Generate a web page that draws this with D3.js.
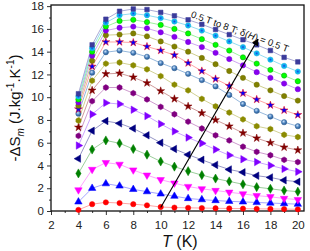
<!DOCTYPE html>
<html>
<head>
<meta charset="utf-8">
<script src="https://cdn.jsdelivr.net/npm/d3@7"></script>
<style>
body { margin: 0; background: #fff; }
text { font-family: "Liberation Sans", Arial, sans-serif; }
</style>
</head>
<body>
<div id="chart"></div>
<script>
// Temperature (K)
var temps = [4, 5, 6, 7, 8, 9, 10, 11, 12, 13, 14, 15, 16, 17, 18, 19, 20];

// -dSm values for each field, 0.5 T to 8 T
var s05 = [0.1, 0.6, 0.76, 0.7, 0.6, 0.5, 0.35, 0.3, 0.28, 0.26, 0.24, 0.22, 0.21, 0.19, 0.18, 0.17, 0.15];
var s10 = [0.8, 2.0, 2.4, 2.2, 1.9, 1.7, 1.5, 1.3, 1.1, 1.0, 0.92, 0.85, 0.8, 0.75, 0.7, 0.65, 0.6];
var s15 = [1.85, 3.65, 4.25, 4.1, 3.6, 3.15, 2.75, 2.45, 2.15, 1.95, 1.8, 1.65, 1.5, 1.35, 1.25, 1.1, 1.0];
var s20 = [3.3, 5.4, 6.2, 5.95, 5.45, 4.95, 4.35, 3.9, 3.5, 3.15, 2.85, 2.6, 2.35, 2.1, 1.95, 1.8, 1.7];
var s25 = [4.6, 7.05, 7.9, 7.7, 7.25, 6.65, 6.0, 5.45, 4.95, 4.5, 4.05, 3.65, 3.4, 3.1, 2.95, 2.7, 2.57];
var s30 = [5.75, 8.5, 9.5, 9.4, 8.9, 8.35, 7.65, 7.0, 6.45, 5.95, 5.4, 4.9, 4.55, 4.3, 4.0, 3.7, 3.45];
var s35 = [6.6, 9.65, 10.85, 10.85, 10.35, 9.8, 9.15, 8.5, 7.85, 7.25, 6.65, 6.2, 5.65, 5.2, 4.9, 4.5, 4.3];
var s40 = [7.35, 10.6, 12.05, 12.1, 11.75, 11.25, 10.55, 9.85, 9.2, 8.6, 8.0, 7.45, 6.85, 6.4, 6.0, 5.6, 5.35];
var s45 = [7.95, 11.45, 12.95, 13.05, 12.8, 12.45, 11.85, 11.1, 10.6, 9.85, 9.2, 8.65, 8.05, 7.45, 7.2, 6.7, 6.5];
var s50 = [8.55, 12.15, 13.95, 14.1, 13.9, 13.55, 13.0, 12.55, 12.05, 11.5, 10.95, 10.2, 9.4, 8.8, 8.3, 7.8, 7.45];
var s55 = [8.95, 12.7, 14.85, 14.85, 14.8, 14.45, 14.1, 13.7, 13.0, 12.3, 11.6, 11.0, 10.35, 9.8, 9.3, 8.85, 8.45];
var s60 = [9.25, 13.2, 15.45, 15.5, 15.6, 15.35, 14.9, 14.45, 14.0, 13.45, 12.9, 12.3, 11.7, 11.1, 10.6, 10.1, 9.7];
var s65 = [9.55, 13.65, 15.85, 16.1, 16.2, 16.05, 15.7, 15.3, 14.85, 14.4, 13.9, 13.35, 12.8, 12.2, 11.7, 11.2, 10.7];
var s70 = [9.8, 14.0, 16.2, 16.7, 16.8, 16.6, 16.35, 16.0, 15.6, 15.1, 14.6, 14.1, 13.5, 12.95, 12.4, 11.9, 11.4];
var s75 = [10.05, 14.3, 16.55, 17.2, 17.35, 17.2, 16.95, 16.65, 16.3, 15.85, 15.4, 14.9, 14.4, 13.85, 13.3, 12.75, 12.25];
var s80 = [10.3, 14.6, 16.85, 17.55, 17.75, 17.7, 17.45, 17.15, 16.8, 16.4, 15.95, 15.5, 15.05, 14.6, 14.1, 13.5, 13.1];

var xTicks = [2, 4, 6, 8, 10, 12, 14, 16, 18, 20];
var yTicks = [0, 2, 4, 6, 8, 10, 12, 14, 16, 18];

var svgWidth = 310, svgHeight = 251;
var margin = {top: 5, right: 6, bottom: 40, left: 51};
var plotWidth = svgWidth - margin.left - margin.right;
var plotHeight = svgHeight - margin.top - margin.bottom;

// style of every curve: symbol, fill, stroke, line colour
var series = [
  {v: s05, sym: "circle", fill: "#ff0000", stroke: "#ff0000", line: "#ff9a9a"},
  {v: s10, sym: "up", fill: "#0000ff", stroke: "#0000ff", line: "#9a9aff"},
  {v: s15, sym: "down", fill: "#ff00ff", stroke: "#ff00ff", line: "#ff9aff"},
  {v: s20, sym: "diamond", fill: "#008000", stroke: "#008000", line: "#90c890"},
  {v: s25, sym: "left", fill: "#000080", stroke: "#000080", line: "#8a8ac0"},
  {v: s30, sym: "right", fill: "#8000ff", stroke: "#8000ff", line: "#c49aff"},
  {v: s35, sym: "hex", fill: "#800080", stroke: "#800080", line: "#c890c8"},
  {v: s40, sym: "star", fill: "#800000", stroke: "#800000", line: "#c89090"},
  {v: s45, sym: "hex", fill: "#8b8b00", stroke: "#8b8b00", line: "#cccc88"},
  {v: s50, sym: "sphere", fill: "url(#gSteel)", stroke: "#2f5f95", line: "#8ab0d8"},
  {v: s55, sym: "star", fill: "#0000ff", stroke: "#ff0000", line: "#ff9a9a"},
  {v: s60, sym: "circle", fill: "#808000", stroke: "#707000", line: "#c8c880"},
  {v: s65, sym: "circle", fill: "#8800ee", stroke: "#7700dd", line: "#c89aee"},
  {v: s70, sym: "circle", fill: "#00ff00", stroke: "#00a000", line: "#90f090"},
  {v: s75, sym: "sphere", fill: "url(#gCyan)", stroke: "#00a0d0", line: "#88d8ee"},
  {v: s80, sym: "square", fill: "#3b3b9b", stroke: "#3b3b9b", line: "#a0a0d0"}
];

var svg = d3.select("#chart")
  .append("svg")
  .attr("width", svgWidth)
  .attr("height", svgHeight);

var defs = svg.append("defs");
var g1 = defs.append("radialGradient").attr("id", "gSteel").attr("cx", "40%").attr("cy", "35%").attr("r", "65%");
g1.append("stop").attr("offset", "0%").attr("stop-color", "#cfe4fa");
g1.append("stop").attr("offset", "55%").attr("stop-color", "#4a82bf");
g1.append("stop").attr("offset", "100%").attr("stop-color", "#2a5a90");
var g2 = defs.append("radialGradient").attr("id", "gCyan").attr("cx", "50%").attr("cy", "50%").attr("r", "55%");
g2.append("stop").attr("offset", "0%").attr("stop-color", "#1040e0");
g2.append("stop").attr("offset", "45%").attr("stop-color", "#10a0f0");
g2.append("stop").attr("offset", "100%").attr("stop-color", "#20e0ff");
defs.append("marker")
  .attr("id", "arrow")
  .attr("viewBox", "0 0 10 10")
  .attr("refX", 9).attr("refY", 5)
  .attr("markerWidth", 7).attr("markerHeight", 7)
  .attr("markerUnits", "userSpaceOnUse")
  .attr("orient", "auto")
  .append("path")
  .attr("d", "M0,0 L10,5 L0,10 z")
  .attr("fill", "#000");

var chartGroup = svg.append("g")
  .attr("transform", `translate(${margin.left}, ${margin.top})`);

var xScale = d3.scaleLinear().domain([2, 20.45]).range([0, plotWidth]);
var yScale = d3.scaleLinear().domain([0, 18.1]).range([plotHeight, 0]);

// minor ticks
chartGroup.append("g")
  .attr("transform", `translate(0, ${plotHeight})`)
  .call(d3.axisBottom(xScale).tickValues(d3.range(3, 21, 2)).tickSize(2).tickFormat(""))
  .call(g => g.select(".domain").remove());
chartGroup.append("g")
  .call(d3.axisLeft(yScale).tickValues(d3.range(1, 19, 2)).tickSize(2).tickFormat(""))
  .call(g => g.select(".domain").remove());

// major ticks
var xAxis = chartGroup.append("g")
  .attr("transform", `translate(0, ${plotHeight})`)
  .call(d3.axisBottom(xScale).tickValues(xTicks).tickSize(4).tickPadding(6));
var yAxis = chartGroup.append("g")
  .call(d3.axisLeft(yScale).tickValues(yTicks).tickSize(4).tickPadding(3));
[xAxis, yAxis].forEach(a => {
  a.select(".domain").remove();
  a.selectAll("text").attr("font-size", 11.5).attr("fill", "#222").style("font-family", "'Liberation Sans', Arial, sans-serif");
});
chartGroup.selectAll(".tick line").attr("stroke", "#333");

// frame
chartGroup.append("rect")
  .attr("width", plotWidth)
  .attr("height", plotHeight)
  .attr("fill", "none")
  .attr("stroke", "#111")
  .attr("stroke-width", 1.3);

// lines
var line = d3.line()
  .x((d, i) => xScale(temps[i]))
  .y(d => yScale(d));

chartGroup.selectAll(".curve")
  .data(series)
  .enter()
  .append("path")
  .attr("class", "curve")
  .attr("d", d => line(d.v))
  .attr("fill", "none")
  .attr("stroke", d => d.line)
  .attr("stroke-width", 0.9);

// symbol paths
function symbolPath(name) {
  if (name === "circle" || name === "sphere") return d3.symbol(d3.symbolCircle, 22)();
  if (name === "square") return d3.symbol(d3.symbolSquare, 21)();
  if (name === "diamond") return d3.symbol(d3.symbolDiamond, 24)();
  if (name === "star") return d3.symbol(d3.symbolStar, 19)();
  if (name === "hex") {
    var r = 2.9, pts = [];
    for (var k = 0; k < 6; k++) {
      var a = Math.PI / 6 + k * Math.PI / 3;
      pts.push([r * Math.cos(a), r * Math.sin(a)]);
    }
    return "M" + pts.join("L") + "Z";
  }
  return d3.symbol(d3.symbolTriangle, 24)();
}
var rot = {up: 0, down: 180, left: -90, right: 90};

series.forEach(function(s) {
  chartGroup.append("g")
    .selectAll("path")
    .data(s.v)
    .enter()
    .append("path")
    .attr("d", symbolPath(s.sym))
    .attr("transform", (d, i) => `translate(${xScale(temps[i])}, ${yScale(d)}) rotate(${rot[s.sym] || 0})`)
    .attr("fill", s.fill)
    .attr("stroke", s.stroke)
    .attr("stroke-width", 0.5);
});

// arrow across the field curves
chartGroup.append("line")
  .attr("x1", xScale(10))
  .attr("y1", yScale(0.3))
  .attr("x2", xScale(17.1))
  .attr("y2", yScale(15.1))
  .attr("stroke", "#000")
  .attr("stroke-width", 1.1)
  .attr("marker-end", "url(#arrow)");

var note = chartGroup.append("text")
  .attr("transform", `translate(${xScale(12.15)}, ${yScale(17.05)}) rotate(20)`)
  .attr("font-size", 9.5)
  .attr("fill", "#111");
note.append("tspan").text("0.5 T to 8 T; δ(");
note.append("tspan").attr("font-style", "italic").text("H");
note.append("tspan").text(") = 0.5 T");

// axis labels
var yLabel = svg.append("text")
  .attr("transform", `translate(20, ${margin.top + plotHeight / 2}) rotate(-90)`)
  .attr("text-anchor", "middle")
  .attr("font-size", 15)
  .attr("fill", "#111");
yLabel.append("tspan").text("-ΔS");
yLabel.append("tspan").attr("font-size", 10).attr("font-style", "italic").attr("dy", 4).text("m");
yLabel.append("tspan").attr("dy", -4).text(" (J.kg");
yLabel.append("tspan").attr("font-size", 10).attr("dy", -6).text("-1");
yLabel.append("tspan").attr("dy", 6).text(".K");
yLabel.append("tspan").attr("font-size", 10).attr("dy", -6).text("-1");
yLabel.append("tspan").attr("dy", 6).text(")");

var xLabel = svg.append("text")
  .attr("x", margin.left + xScale(11.4))
  .attr("y", 247)
  .attr("text-anchor", "middle")
  .attr("font-size", 16)
  .attr("fill", "#111");
xLabel.append("tspan").attr("font-style", "italic").text("T");
xLabel.append("tspan").text(" (K)");
</script>
</body>
</html>
